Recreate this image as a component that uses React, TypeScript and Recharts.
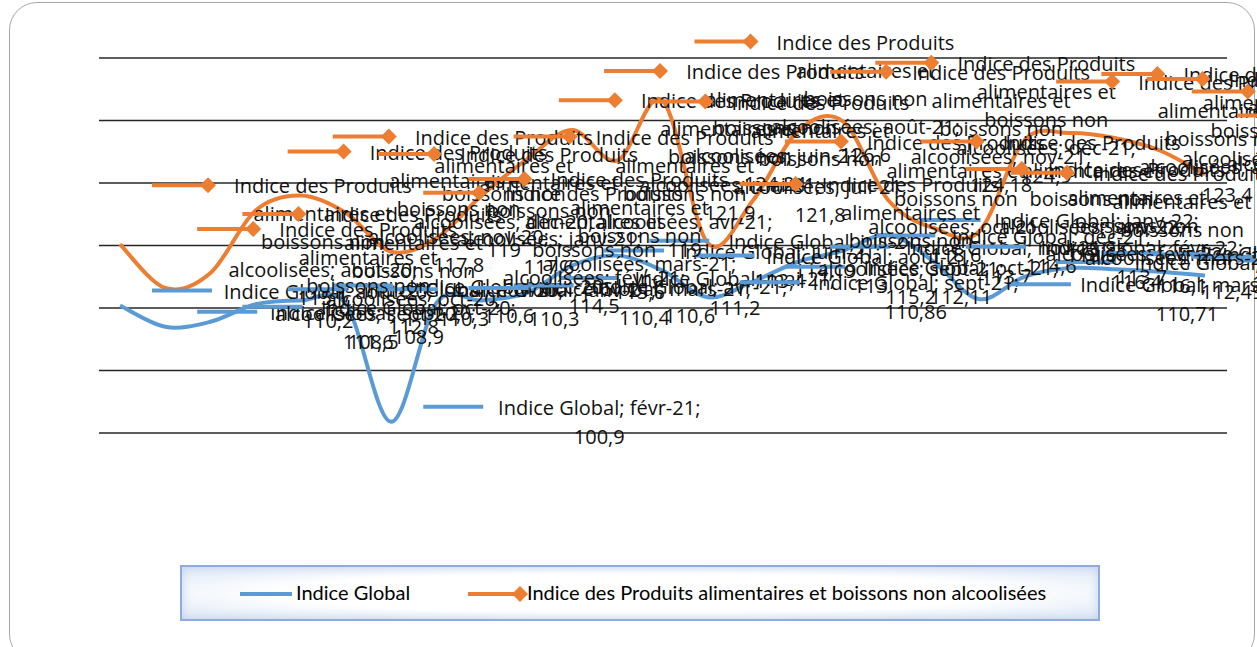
import React from "react"
import { LineChart, Line, XAxis, YAxis, ReferenceLine, LabelList } from "recharts"

// ── Data ─────────────────────────────────────────────────────
const months = [
  "août-20", "sept-20", "oct-20", "nov-20", "déc-20", "janv-21", "févr-21",
  "mars-21", "avr-21", "mai-21", "juin-21", "juil-21", "août-21", "sept-21",
  "oct-21", "nov-21", "déc-21", "janv-22", "févr-22", "mars-22", "avr-22",
  "mai-22", "juin-22", "juil-22", "août-22",
]

const indiceGlobal = [
  110.2, 108.5, 108.9, 110.3, 110.6, 110.3, 100.9, 110.4, 110.6, 111.2,
  113.4, 114.19, 113, 110.86, 112.11, 113.7, 114.6, 115.85, 113.7, 110.71,
  112.49, 113.2, 113.1, 112.9, 112.6,
]

const indiceAlim = [
  115.1, 111.6, 112.8, 117.8, 119.0, 117.6, 114.5, 115.6, 119.0, 121.9,
  124.24, 121.8, 126.6, 115.2, 118.6, 124.18, 124.9, 118.6, 116.4, 116.1,
  123.4, 124.0, 123.6, 122.6, 120.68,
]

const yTicks = [100, 105, 110, 115, 120, 125, 130]

const BLUE = "#5b9bd5"
const ORANGE = "#ed7d31"
const LABEL_FONT = "'Open Sans', sans-serif"

const data = months.map((m, i) => ({ mois: m, global: indiceGlobal[i], alim: indiceAlim[i] }))

const fmt = (v: number) => String(v).replace(".", ",")

// Excel-like smoothed line (Catmull-Rom through the points)
function excelSmooth(context: any) {
  let pts: [number, number][] = []
  return {
    areaStart() {},
    areaEnd() {},
    lineStart() {
      pts = []
    },
    point(x: number, y: number) {
      pts.push([+x, +y])
    },
    lineEnd() {
      const n = pts.length
      if (!n) return
      context.moveTo(pts[0][0], pts[0][1])
      for (let i = 0; i < n - 1; i++) {
        const p0 = pts[Math.max(i - 1, 0)]
        const p1 = pts[i]
        const p2 = pts[i + 1]
        const p3 = pts[Math.min(i + 2, n - 1)]
        context.bezierCurveTo(
          p1[0] + (p2[0] - p0[0]) / 6, p1[1] + (p2[1] - p0[1]) / 6,
          p2[0] - (p3[0] - p1[0]) / 6, p2[1] - (p3[1] - p1[1]) / 6,
          p2[0], p2[1],
        )
      }
    },
  }
}

// ── Data labels (legend key + wrapped text, placed right) ────
function GlobalLabel(props: any) {
  const { x, y, value, index } = props
  const ky = y - 15
  const cx = x + 208
  return (
    <g>
      <line x1={x + 32} y1={ky} x2={x + 92} y2={ky} stroke={BLUE} strokeWidth={4} />
      <text textAnchor="middle" dominantBaseline="central" fontFamily={LABEL_FONT} fontSize={20} fill="#111">
        <tspan x={cx} y={ky}>{`Indice Global; ${months[index]};`}</tspan>
        <tspan x={cx} y={ky + 29}>{fmt(value)}</tspan>
      </text>
    </g>
  )
}

function AlimLabel(props: any) {
  const { x, y, value, index } = props
  const ky = y - 59
  const cx = x + 203
  const lines = ["Indice des Produits", "alimentaires et", "boissons non", `alcoolisées; ${months[index]};`, fmt(value)]
  const dx = x + 88
  return (
    <g>
      <line x1={x + 32} y1={ky} x2={x + 88} y2={ky} stroke={ORANGE} strokeWidth={4} />
      <path d={`M${dx - 8},${ky} L${dx},${ky - 8} L${dx + 8},${ky} L${dx},${ky + 8} Z`} fill={ORANGE} />
      <text textAnchor="middle" dominantBaseline="central" fontFamily={LABEL_FONT} fontSize={20} fill="#111">
        {lines.map((t, k) => (
          <tspan key={k} x={cx} y={ky + k * 28}>{t}</tspan>
        ))}
      </text>
    </g>
  )
}

// ── Legend box ───────────────────────────────────────────────
function LegendBox() {
  return (
    <div
      style={{
        position: "absolute",
        left: 180,
        top: 565,
        width: 920,
        height: 56,
        boxSizing: "border-box",
        border: "2px solid #8faadc",
        background: "radial-gradient(ellipse at center, #ffffff 55%, #dce6f5 100%)",
        boxShadow: "inset 0 0 10px #c3d3ee",
        fontFamily: "Lato, sans-serif",
        fontSize: 20,
        color: "#000",
      }}
    >
      <svg width={920} height={52} style={{ position: "absolute", left: 0, top: 0 }}>
        <line x1={58} y1={27} x2={110} y2={27} stroke={BLUE} strokeWidth={4} />
        <line x1={286} y1={27} x2={336} y2={27} stroke={ORANGE} strokeWidth={4} />
        <path d="M330,27 L338,19 L346,27 L338,35 Z" fill={ORANGE} />
      </svg>
      <span style={{ position: "absolute", left: 114, top: 13 }}>Indice Global</span>
      <span style={{ position: "absolute", left: 345, top: 13 }}>
        Indice des Produits alimentaires et boissons non alcoolisées
      </span>
    </div>
  )
}

export default function App() {
  return (
    <div style={{ position: "absolute", left: 0, top: 0, width: 1257, height: 647, overflow: "hidden", background: "#fff" }}>
      <div
        style={{
          position: "absolute",
          left: 9,
          top: 2,
          width: 1246,
          height: 660,
          boxSizing: "border-box",
          border: "1.5px solid #a6a6a6",
          borderRadius: 28,
        }}
      />
      <div style={{ position: "absolute", left: 0, top: 0 }}>
        <LineChart width={1257} height={647} data={data} margin={{ top: 58, right: 30, bottom: 214, left: 99 }}>
          <XAxis dataKey="mois" hide scale="point" padding={{ left: 21, right: 22 }} />
          <YAxis hide domain={[100, 130]} ticks={yTicks} />
          {yTicks.map((v) => (
            <ReferenceLine key={v} y={v} stroke="#262626" strokeWidth={1.4} />
          ))}
          <Line dataKey="global" type={excelSmooth as any} stroke={BLUE} strokeWidth={4} dot={false} activeDot={false} isAnimationActive={false} />
          <Line dataKey="alim" type={excelSmooth as any} stroke={ORANGE} strokeWidth={4} dot={false} activeDot={false} isAnimationActive={false} />
          <Line dataKey="global" stroke="none" dot={false} activeDot={false} isAnimationActive={false}>
            <LabelList dataKey="global" content={GlobalLabel} />
          </Line>
          <Line dataKey="alim" stroke="none" dot={false} activeDot={false} isAnimationActive={false}>
            <LabelList dataKey="alim" content={AlimLabel} />
          </Line>
        </LineChart>
      </div>
      <LegendBox />
    </div>
  )
}
